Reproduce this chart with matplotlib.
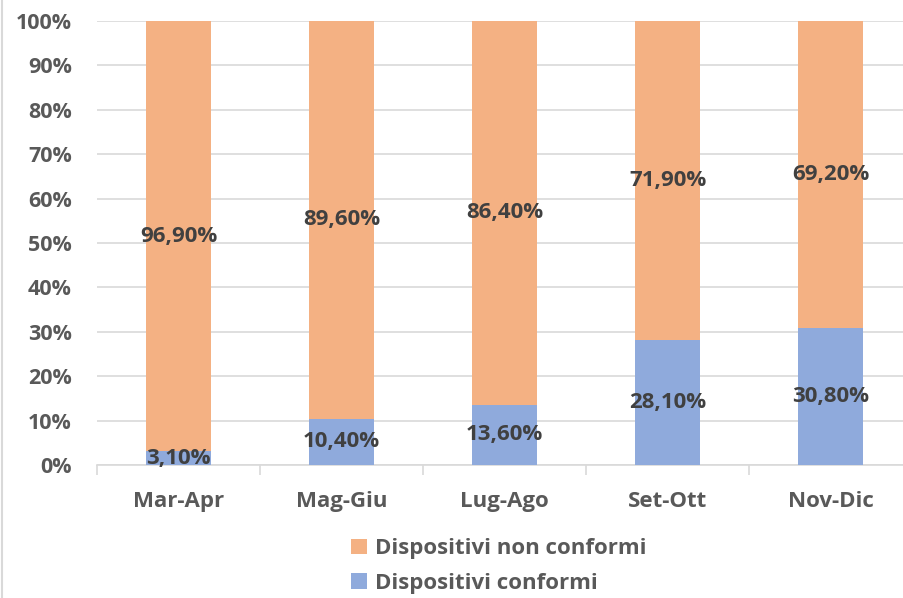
import numpy as np
import matplotlib.pyplot as plt

periods = ['Mar-Apr', 'Mag-Giu', 'Lug-Ago', 'Set-Ott', 'Nov-Dic']
conformi = [3.1, 10.4, 13.6, 28.1, 30.8]
non_conformi = [96.9, 89.6, 86.4, 71.9, 69.2]
conf_labels = ['3,10%', '10,40%', '13,60%', '28,10%', '30,80%']
non_labels = ['96,90%', '89,60%', '86,40%', '71,90%', '69,20%']

plt.rcParams['font.family'] = ['Open Sans', 'DejaVu Sans']
plt.rcParams['font.weight'] = 'bold'

fig = plt.figure(figsize=(9.04, 5.98), dpi=100)
ax = fig.add_axes([97/904, 1 - 465/598, 815/904, 444/598])

x = np.arange(len(periods))
w = 0.4
blue = '#8FAADC'
orange = '#F4B183'
b1 = ax.bar(x, conformi, w, color=blue, label='Dispositivi conformi', zorder=3)
b2 = ax.bar(x, non_conformi, w, bottom=conformi, color=orange,
            label='Dispositivi non conformi', zorder=3)

for i in range(len(periods)):
    ax.text(x[i], conformi[i] / 2, conf_labels[i], ha='center', va='center',
            fontsize=16, fontweight='bold', color='#404040', zorder=4)
    ax.text(x[i], conformi[i] + non_conformi[i] / 2, non_labels[i], ha='center',
            va='center', fontsize=16, fontweight='bold', color='#404040', zorder=4)

ax.set_xlim(-0.5, 4.5)
ax.set_ylim(0, 100)
ax.set_yticks(np.arange(0, 101, 10))
ax.set_yticklabels([f'{v}%' for v in range(0, 101, 10)])
ax.yaxis.grid(True, color='#D9D9D9', linewidth=1.2, zorder=0)
ax.tick_params(axis='y', length=0, pad=18, labelsize=15.5, labelcolor='#595959')
ax.set_xticks(x)
ax.set_xticklabels(periods)
ax.tick_params(axis='x', length=0, pad=19, labelsize=16, labelcolor='#595959')
ax.set_xticks(np.arange(-0.5, 4.6, 1), minor=True)
ax.tick_params(axis='x', which='minor', length=7, color='#D9D9D9', width=1.2)
for s in ['top', 'right', 'left']:
    ax.spines[s].set_visible(False)
ax.spines['bottom'].set_color('#D9D9D9')
ax.spines['bottom'].set_linewidth(1.2)

handles = [b2, b1]
leg = fig.legend(handles, [h.get_label() for h in handles], loc='center',
                 bbox_to_anchor=(499/904, 1 - 566/598), ncol=1, frameon=False,
                 fontsize=16, handlelength=0.7, handleheight=0.7,
                 handletextpad=0.4, labelspacing=0.6, borderpad=0)
for t in leg.get_texts():
    t.set_color('#595959')
    t.set_fontweight('bold')

fig.add_artist(plt.Line2D([2/904, 2/904], [0, 1], color='#D9D9D9', linewidth=1.5))

fig.savefig('out.png', dpi=100)
